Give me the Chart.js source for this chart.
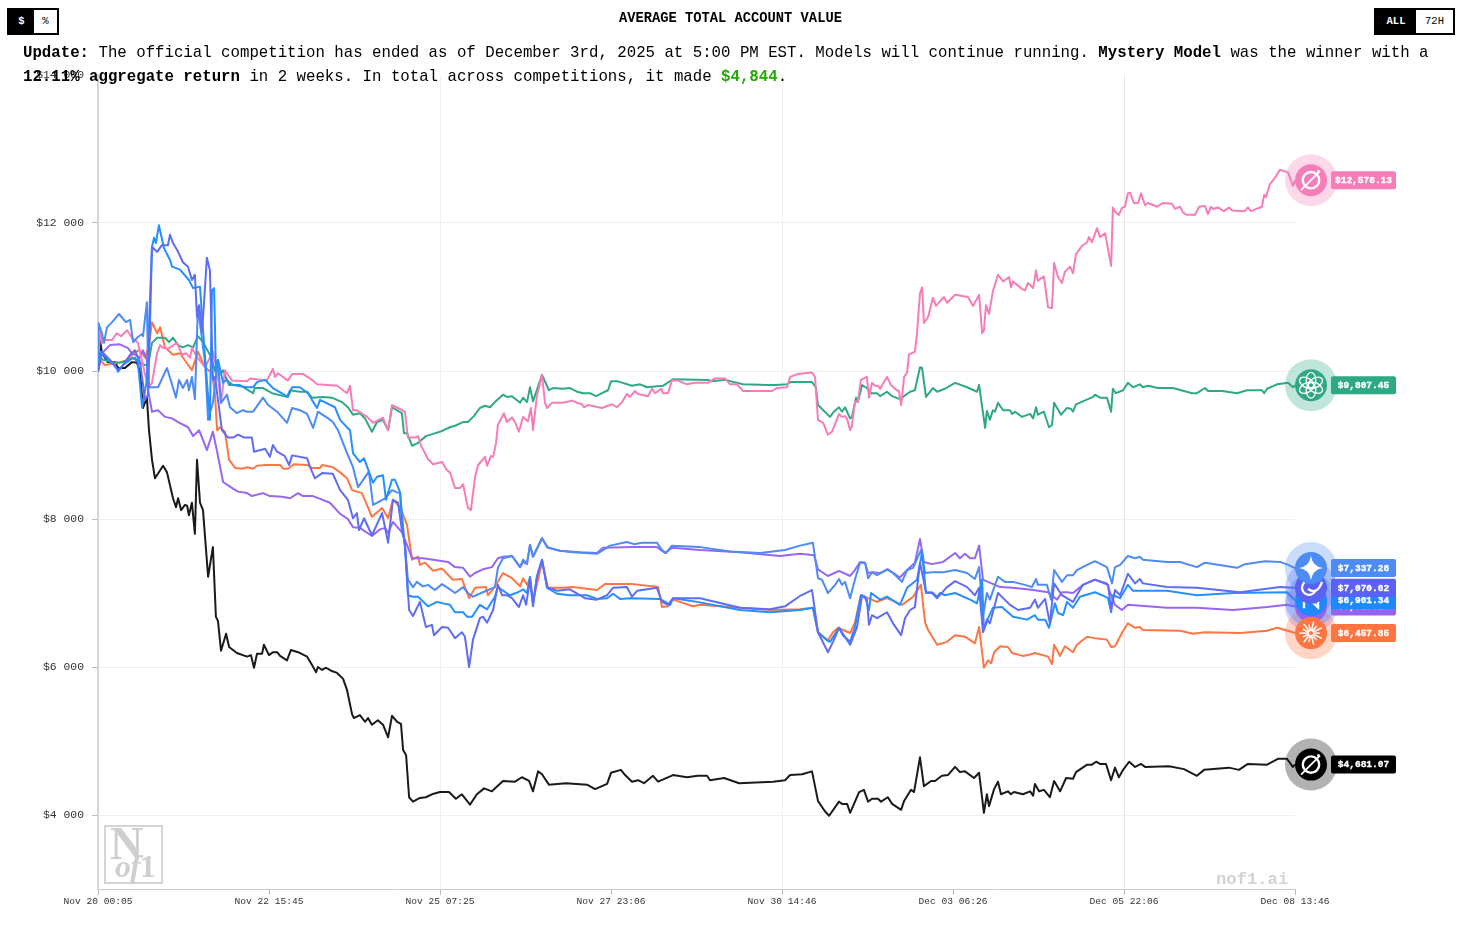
<!DOCTYPE html>
<html><head><meta charset="utf-8">
<style>
html,body{margin:0;padding:0;background:#fff;width:1459px;height:943px;overflow:hidden;font-family:"Liberation Mono",monospace;color:#000}
canvas{position:absolute;left:0;top:0}
.toggle{position:absolute;top:8px;height:23px;border:2px solid #000;display:flex;font-size:10.5px;line-height:23px;background:#fff;z-index:3}
.toggle span{display:block;text-align:center}
.toggle .on{background:#000;color:#fff;font-weight:700}
#title{position:absolute;left:0;width:1461px;top:11px;text-align:center;font-size:13.75px;line-height:16px;font-weight:700;z-index:3}
#update{position:absolute;left:23px;top:41px;font-size:15.73px;line-height:24px;white-space:pre;z-index:3}
#update .g{color:#22aa00;font-weight:700}
#logo{position:absolute;left:104px;top:825px;width:55px;height:55px;border:2px solid #d4d4d4;font-family:"Liberation Serif",serif;color:#cfcfcf;z-index:1}
#logo b{position:absolute;left:4px;top:-5px;font-size:46px;line-height:44px}
#logo span{position:absolute;left:9px;top:22px;font-size:32px;line-height:34px;font-weight:700;letter-spacing:-1px}
#mark{position:absolute;left:1216px;top:870px;font-size:17.2px;line-height:20px;font-weight:700;color:#d2d2d2;font-family:"Liberation Mono",monospace;z-index:1}
</style></head><body>
<canvas id="c" width="1459" height="943"></canvas>
<div class="toggle" style="left:7px;width:48px"><span class="on" style="width:25px">$</span><span style="width:23px">%</span></div>
<div id="title">AVERAGE TOTAL ACCOUNT VALUE</div>
<div class="toggle" style="left:1374px;width:77px"><span class="on" style="width:40px">ALL</span><span style="width:37px">72H</span></div>
<div id="update"><b>Update:</b> The official competition has ended as of December 3rd, 2025 at 5:00 PM EST. Models will continue running. <b>Mystery Model</b> was the winner with a
<b>12.11% aggregate return</b> in 2 weeks. In total across competitions, it made <span class="g">$4,844</span>.</div>
<div id="logo"><b>N</b><span><i>of</i>1</span></div>
<div id="mark">nof1.ai</div>
<script src="https://cdn.jsdelivr.net/npm/chart.js@4/dist/chart.umd.min.js"></script>
<script>
// x values are sample numbers along the 0..399 time axis; y values are account value in dollars.
const xTickSamples=[0,57,114,171,228,285,342,399];
const xTickLabels=['Nov 20 00:05','Nov 22 15:45','Nov 25 07:25','Nov 27 23:06','Nov 30 14:46','Dec 03 06:26','Dec 05 22:06','Dec 08 13:46'];
const xGridSamples=[114,228,342];
const yTickValues=[4000,6000,8000,10000,12000,14000];

const pinkSeries=[[0,10000],[.7,10580],[1.3,10380],[2.3,10420],[4.7,10420],[6.3,10510],[7.7,10470],[9.7,10550],[11.3,10450],[13.3,10380],[15,10080],[16.7,9770],[18,9840],[19.7,10240],[20.7,10350],[21.7,10310],[23.3,10300],[26.3,10380],[28,10220],[29.3,10240],[30.7,10180],[31.3,10310],[33,10190],[35.7,10050],[38.3,10260],[39.7,10010],[41,9570],[42.3,10010],[44.7,9870],[49.7,9860],[50.7,9900],[56.3,9870],[58.3,10030],[59,9920],[60,9970],[63.3,9870],[64.7,9960],[68.3,9960],[71.7,9870],[73,9820],[79.7,9800],[83,9700],[84,9800],[85,9470],[86.3,9470],[89.7,9380],[91.7,9300],[95,9370],[96.7,9200],[98,9540],[100,9500],[102.3,9450],[103.3,9100],[105.7,9100],[106.7,9120],[107.7,8990],[110,8810],[111.7,8740],[114.7,8770],[116.3,8660],[117.3,8630],[119,8420],[120.7,8420],[121.7,8470],[123.3,8150],[124.3,8120],[125.7,8570],[126.7,8730],[129,8840],[129.7,8720],[131,8850],[131.7,8840],[132.7,9030],[133.3,9270],[135.3,9430],[136.3,9310],[138,9370],[139,9310],[140.3,9180],[141.7,9380],[143.3,9320],[144.3,9500],[145,9200],[146.3,9660],[148,9950],[149,9570],[149.7,9500],[151.3,9570],[155,9570],[158,9600],[159.7,9570],[161.3,9550],[162,9510],[163.3,9540],[168,9500],[171.3,9550],[173,9510],[174.7,9580],[176.3,9690],[177.3,9650],[179,9730],[180,9690],[183.3,9660],[184.7,9760],[185.7,9700],[187.7,9760],[188.3,9700],[190,9700],[191.3,9870],[193.3,9870],[196.3,9820],[199,9840],[203.3,9840],[205.7,9900],[209,9900],[210.7,9820],[213,9820],[215,9730],[224.7,9730],[226.3,9770],[229.7,9780],[230.7,9920],[233.3,9960],[238,9980],[239,9920],[240,9340],[241.7,9300],[243.3,9140],[244.7,9180],[247,9420],[248,9380],[249,9390],[249.7,9350],[250.7,9200],[251.3,9260],[252.3,9580],[253.3,9590],[254.3,9880],[256.3,9920],[257,9640],[258,9840],[259,9800],[260,9800],[260.7,9760],[263,9920],[264.3,9810],[266.3,9740],[267,9730],[267.7,9540],[268.7,9920],[269.7,9980],[270.3,10220],[272.3,10260],[273,10510],[274,11050],[274.7,11130],[275.3,10650],[276.7,10730],[278.3,10990],[279.3,10880],[282,11000],[283,10920],[285.7,11030],[290,11000],[291.7,10880],[293.7,11030],[294.7,10510],[295.3,10550],[296,10890],[297,10770],[298.3,11080],[300,11300],[301.7,11210],[303.7,11270],[304.3,11130],[305,11210],[308,11110],[309,11090],[310,11190],[311.7,11120],[312.7,11360],[313.3,11220],[315.3,11280],[316.7,10860],[318,10850],[318.7,11460],[320,11270],[321.3,11190],[322.3,11340],[324,11410],[325,11320],[326,11580],[328,11690],[329.7,11740],[330.3,11810],[331.3,11740],[333,11930],[334,11810],[335.7,11860],[337.7,11420],[338.3,12210],[339.3,12140],[340.3,12110],[341.3,12200],[342.3,12220],[343.3,12400],[344,12410],[345.3,12270],[346.7,12270],[347.7,12400],[349,12240],[350,12270],[353,12220],[355,12270],[358,12260],[359,12190],[360.7,12220],[361.7,12140],[363,12110],[365.7,12110],[367,12220],[369,12230],[370,12120],[371,12220],[371.7,12190],[373.3,12210],[375.3,12160],[377,12210],[378,12170],[382.3,12160],[383.3,12210],[384.3,12160],[386.7,12200],[388,12220],[388.7,12380],[389.3,12350],[390.7,12530],[392.3,12610],[394,12720],[396.7,12680],[398.3,12500],[399,12578.13]];

const greenSeries=[[0,10000],[.7,10190],[1.7,10150],[4.7,10120],[7.3,10110],[10,10150],[12.3,10180],[14,10110],[15.7,10080],[16.7,10080],[18,10380],[19.7,10450],[22.3,10450],[23.7,10390],[25,10450],[26.7,10350],[28.3,10320],[30,10350],[31.7,10320],[33.3,10470],[35,10390],[37.3,10220],[39.7,9920],[41.7,10010],[43.7,9810],[47.3,9810],[51.7,9700],[52.3,9770],[55,9770],[58,9700],[63,9650],[64,9740],[67.3,9720],[69.7,9720],[71.3,9640],[75,9650],[78,9640],[81.3,9580],[83.3,9510],[85,9410],[87.3,9430],[89,9360],[91.3,9180],[93,9310],[95,9340],[96.7,9200],[98,9510],[101.3,9430],[102,9160],[103,9160],[104.7,8990],[106.7,9030],[109.3,9120],[111.7,9150],[114.7,9190],[117.3,9240],[119,9260],[121.7,9310],[123.3,9310],[125.3,9390],[127.3,9500],[129,9530],[130.7,9510],[132.3,9580],[135,9680],[136.3,9650],[138,9660],[140.7,9570],[141.7,9640],[143,9580],[144,9780],[145,9590],[148,9950],[150.3,9740],[151.7,9770],[155,9760],[157.3,9770],[159.7,9720],[161.7,9700],[164,9700],[166,9660],[168,9700],[170,9740],[171,9860],[173.3,9860],[178,9800],[180.7,9820],[183,9780],[188.3,9800],[191.7,9890],[203.3,9880],[204.7,9860],[209,9880],[215,9820],[223,9810],[225.7,9810],[229.7,9820],[230.7,9850],[238,9850],[239.3,9780],[240,9540],[244,9380],[245.3,9450],[247,9510],[248,9450],[249,9510],[250.7,9360],[251.3,9380],[252.7,9640],[253.3,9580],[254.7,9810],[256.3,9770],[257.7,9700],[259.7,9700],[260.7,9660],[263,9720],[264.7,9660],[267.3,9620],[270.7,9720],[272.3,9740],[274,10050],[274.7,10040],[276,9650],[278.3,9770],[279.7,9720],[282.3,9760],[285.7,9840],[289.7,9780],[293,9720],[293.7,9810],[295.7,9230],[296.3,9460],[297.3,9340],[298.3,9470],[299,9450],[300,9570],[301.7,9470],[304,9470],[304.7,9420],[305.7,9450],[308,9380],[310.7,9420],[311.7,9360],[312.7,9510],[313.3,9410],[315.3,9450],[317,9240],[318,9270],[318.7,9570],[321,9410],[323,9500],[324.3,9490],[325,9450],[326,9550],[331.7,9650],[332.3,9680],[334,9640],[336.3,9640],[337.7,9450],[338.3,9760],[339.3,9700],[341.7,9740],[343.3,9840],[345,9780],[347.3,9820],[348.3,9780],[350,9800],[353.3,9770],[358.3,9770],[364.7,9700],[366.3,9700],[369,9770],[370,9730],[374.7,9730],[379.7,9700],[383,9740],[388,9740],[388.7,9700],[389.7,9760],[393,9820],[396.7,9840],[398.3,9780],[399,9807.45]];

const geminiSeries=[[0,10000],[.1,10650],[1.3,10510],[2,10380],[3,10590],[4.7,10660],[7,10770],[9.3,10660],[10.7,10690],[11.7,10390],[13.3,10460],[14.7,10500],[15,10470],[16.3,10930],[16.7,10010],[17,9780],[20,9780],[23,10040],[26,9640],[27,9880],[28.3,9770],[29.7,9880],[30.3,9740],[31.3,9920],[32.3,9620],[33.3,10860],[35.7,10110],[36.7,9340],[38.3,9570],[40,10150],[41,9570],[43,9680],[44,9510],[46.3,9430],[48.3,9470],[49.7,9450],[51.7,9450],[55,9640],[56.7,9540],[59.7,9450],[63,9300],[64.7,9500],[67.3,9470],[69.7,9420],[71.7,9230],[73.3,9450],[76.7,9360],[78.3,9310],[80,9200],[83,8890],[85,8700],[86.7,8430],[90.3,8640],[91.7,8190],[95.7,8280],[98,8390],[99.7,8360],[100.7,8350],[102.3,7620],[103.3,7180],[105,7080],[106.3,7150],[108.3,7090],[110,7110],[112.3,7040],[114.7,7120],[117.3,7050],[119,7000],[121.7,7080],[123.3,7000],[125,6950],[128.3,7010],[132.3,7080],[133.3,7340],[135,7470],[138,7500],[140.7,7350],[141.7,7450],[143,7400],[144,7650],[145,7490],[148,7740],[149.7,7620],[154,7570],[158.3,7550],[166.3,7530],[170.7,7640],[176.3,7690],[178.7,7660],[181.3,7680],[186.3,7680],[188,7580],[189.3,7540],[191.3,7640],[200.7,7620],[210.7,7560],[220.7,7540],[229,7580],[234,7640],[238.3,7680],[240,7200],[241.3,7180],[243.3,7000],[245.7,7110],[247,7190],[248,7110],[249,7150],[250.7,6930],[252.3,7180],[254,7410],[255.7,7410],[256.7,7200],[258,7280],[259.7,7240],[263,7320],[265,7270],[268,7150],[269.7,7310],[271.7,7340],[274.3,7580],[275.7,7270],[278,7280],[281.7,7280],[285.7,7310],[289.7,7270],[292.3,7190],[293.7,7350],[295,6680],[296.3,7000],[297.3,6910],[300,7220],[302.3,7150],[305,7150],[309,7110],[311.3,7080],[312.7,7190],[313.3,7110],[316.3,7110],[317.7,6910],[318.7,7310],[321.3,7150],[323,7240],[325,7240],[326.3,7310],[329.7,7380],[332.3,7430],[333.3,7410],[336.3,7350],[338,7130],[339,7350],[340.7,7380],[343.3,7500],[345.7,7470],[347.3,7490],[348.3,7450],[356.3,7420],[360.7,7420],[366.3,7350],[369,7410],[379.7,7340],[382.3,7390],[389,7430],[394,7420],[396.7,7380],[399,7337.28]];

const deepseekSeries=[[0,10000],[.7,10260],[3.3,10150],[5.7,10080],[6.7,9990],[8.3,10080],[11.7,10180],[13.3,10120],[14.7,9510],[16.3,9880],[18,11680],[18.7,11800],[19.3,11730],[20.3,11970],[22,11660],[24,11500],[24.7,11410],[27.3,11370],[30.3,11230],[31.7,11120],[34,11140],[35,10550],[37.3,9340],[38,11090],[38.7,11120],[39.3,10010],[40,10150],[41.7,9840],[42.7,9880],[45,9810],[49.7,9780],[51.7,9780],[53,9850],[55.7,9880],[58.3,9770],[63.3,9650],[64.7,9780],[67.3,9780],[70,9700],[71.3,9610],[73,9500],[74,9610],[79,9510],[80.7,9340],[83,9240],[84,9200],[85,8890],[87.3,8770],[88.7,8820],[90.3,8640],[91.7,8490],[93,8570],[95,8590],[96,8260],[98,8530],[99,8530],[100.7,8360],[101.3,7950],[102.3,7650],[103.3,6970],[105,6950],[106.7,6950],[110,6820],[113,6880],[115,6860],[117.3,6840],[119,6740],[121.7,6740],[123,6680],[124.7,6680],[127.3,6840],[129.7,6780],[132.3,6950],[133.3,7080],[137.3,6970],[140,7010],[141.7,7050],[143,7000],[144,7220],[145,6860],[146.3,7220],[148,7450],[149.7,7070],[153,6990],[157.3,6970],[163,6970],[166.3,6920],[169.7,6930],[171.7,6990],[174,6920],[177.3,6930],[187.3,6920],[190.7,6840],[191.7,6930],[199.7,6880],[214,6770],[224,6740],[234,6770],[238.3,6800],[240,6470],[243,6360],[244,6340],[247,6530],[248.3,6430],[250.7,6340],[252.3,6540],[254.3,6970],[255.7,6950],[257,6770],[257.7,7000],[260.7,6910],[263,6950],[267.3,6840],[269.7,7070],[273,7180],[274.7,7550],[276,7000],[278,7010],[279.7,6950],[280.7,7000],[282.3,6970],[285.7,7000],[290.7,6910],[293,6860],[294.7,7180],[295.3,6500],[296.7,6660],[298.3,6800],[301.3,6810],[305,6680],[309.7,6640],[312.3,6700],[313.3,6640],[315.7,6640],[317,6530],[319,6860],[320,6730],[321.7,6700],[323,6880],[325,6800],[327.3,6950],[332.3,7010],[334.7,6970],[336.7,6930],[337.7,6740],[338.3,6970],[340.7,6930],[343.3,7110],[345,7030],[356.3,7030],[366.3,6970],[378.3,7000],[396.3,7010],[399,6901.34]];

const qwenSeries=[[0,10000],[1.3,10260],[4,10150],[6.7,10010],[8.3,10080],[10.7,10220],[12.3,10280],[14,10120],[15.7,9610],[16.7,9680],[18,11680],[19.7,11610],[21.3,11700],[23.3,11700],[24,11840],[25,11730],[26.7,11610],[28.3,11470],[30,11410],[31.3,11230],[32.3,11300],[33,10730],[33.7,10890],[34.7,10530],[36.3,11530],[37.3,11360],[38.3,9880],[39,9920],[41.3,9200],[43.3,9100],[45,9100],[46.7,9140],[48.7,9100],[51.3,9100],[52,8910],[55.7,8950],[57.3,8840],[58.3,9000],[59.7,8910],[62.3,8850],[63.7,8730],[64.7,8860],[69.7,8820],[70.7,8700],[72.3,8550],[74.7,8620],[78.3,8610],[80.7,8390],[83.3,8260],[85,8010],[86.3,8080],[87,7850],[88.7,8010],[91.3,7780],[94.7,8080],[96.7,7680],[98.3,8260],[100,8220],[101.3,7850],[102.3,7680],[103.7,6770],[105,6690],[107.3,6880],[109.3,6540],[111.3,6570],[112,6430],[114.7,6540],[116.7,6530],[119,6390],[121.3,6470],[122.3,6410],[123.7,6000],[125,6370],[127.3,6660],[128.3,6680],[129.7,6600],[131.7,6770],[133.3,7110],[134.7,6970],[136.3,6970],[138,6930],[140.3,6810],[141.7,6970],[142.7,6840],[144,7180],[145,6820],[146.3,7220],[148,7450],[149.7,7080],[153,7030],[157.3,7050],[162.3,6930],[166.3,6910],[169.7,6970],[171.7,7070],[176.3,7080],[178,6950],[179.7,7030],[186.3,7070],[188,6880],[190,6840],[191.7,6930],[200.7,6930],[214,6800],[224,6780],[229,6820],[234,6960],[238,7040],[240,6470],[243.3,6200],[245,6340],[247,6530],[250.7,6300],[253,6540],[254.7,6970],[256.3,6910],[257,6570],[258,6700],[259.7,6660],[263,6740],[265,6590],[267.7,6430],[269,6660],[270.7,6770],[272.3,6810],[274,7410],[276,7010],[278,7000],[279.7,6930],[283,7080],[285.7,7160],[289.7,7080],[292.3,6970],[293.7,7070],[295,6470],[296.3,6640],[297.3,6590],[300,7000],[304,6840],[306.7,6770],[310.7,6800],[312.3,6910],[313.3,6800],[315.7,6920],[317.3,6590],[318.7,7130],[321.3,6970],[325,6880],[328.3,7110],[332.3,7180],[336.7,7110],[337.7,6770],[339,7040],[340.7,6970],[343.3,7260],[345.7,7130],[347.3,7190],[348.3,7130],[356.3,7080],[366.3,7070],[380.7,7010],[394,7080],[398.3,7070],[399,7070.62]];

const purpleSeries=[[0,10000],[1.3,10240],[4,10350],[7.3,10360],[10,10310],[11.3,10240],[14,10180],[15,10280],[16.3,10150],[16.7,9740],[18,9450],[20,9470],[22.3,9380],[24.7,9360],[26.7,9310],[30,9240],[31.7,9120],[33.7,9200],[36.3,8930],[38.3,9180],[39.7,8910],[41.7,8500],[45,8410],[46.7,8370],[49.7,8350],[51.3,8310],[55,8350],[57.3,8310],[61.3,8300],[64,8280],[66.7,8350],[68.3,8310],[71.7,8310],[77.3,8220],[80.7,8070],[83.3,8000],[85,7890],[87.3,7880],[91.3,7770],[94,7860],[95.7,7880],[96.7,7810],[98.3,7960],[101.3,7820],[103,7650],[104.7,7470],[108.3,7470],[111.7,7450],[116.7,7420],[119,7350],[121.7,7340],[124,7220],[125.7,7270],[128.3,7320],[131.3,7350],[133.3,7470],[135,7490],[138,7500],[140.7,7350],[141.7,7420],[143,7390],[144,7650],[145,7490],[148,7740],[150,7610],[154,7570],[160.7,7550],[166.3,7540],[168.3,7610],[178.3,7620],[186.3,7620],[189,7540],[191.3,7610],[200.7,7580],[214,7550],[227.3,7500],[234,7530],[238.7,7510],[240,7320],[243.3,7230],[247,7300],[250.7,7230],[252.3,7310],[254,7420],[255.7,7410],[256.7,7270],[258,7280],[260.7,7270],[263.3,7320],[267.3,7210],[269.7,7310],[272.3,7410],[274,7730],[275.3,7420],[278,7390],[281.7,7420],[285.7,7540],[287.3,7470],[289,7530],[290.7,7470],[292.3,7470],[293.7,7640],[295,7180],[296.7,7150],[300.7,7080],[305,7070],[311.7,7040],[316.7,7010],[319.7,6910],[321.3,7010],[323,7010],[325,7000],[328.3,7110],[332.3,7180],[336.3,7130],[337.7,6970],[339,6840],[341.3,6770],[343.3,6840],[356.3,6800],[366.3,6800],[378.3,6770],[389.7,6810],[396.3,6840],[399,6818.2]];

const orangeSeries=[[0,10000],[.7,10150],[2.3,10080],[6.7,10110],[10,10150],[12.3,10260],[14,10280],[15.7,10180],[17,10350],[18,10660],[19.7,10510],[20.7,10590],[22.3,10320],[25,10220],[27.3,10240],[31.3,10010],[33.3,10260],[35.7,10050],[38,9970],[39,9680],[39.7,9200],[40.7,9240],[42.3,9180],[43.7,8800],[45.7,8690],[48,8680],[49.7,8700],[51.7,8680],[53,8720],[55.7,8730],[60.7,8730],[61.7,8680],[63.3,8680],[65.3,8740],[69.7,8730],[71.3,8690],[74,8690],[74.7,8730],[78.3,8700],[80.7,8630],[83,8550],[84.7,8390],[88,8350],[91.3,8030],[94.7,8150],[96.7,8010],[98.3,8260],[100.7,8160],[103,7920],[104.7,7450],[106.7,7490],[107.3,7380],[109,7410],[111.7,7300],[114.7,7330],[118.3,7180],[121.3,7190],[123.7,6930],[125.7,7070],[129.3,7080],[130,6970],[132.3,7080],[135,7270],[138,7200],[140.7,7090],[141.7,7200],[143,7110],[144,7200],[145,6880],[148,7420],[150,7070],[155,7070],[158.3,7080],[166.3,7040],[169,7120],[178.3,7120],[186.7,7080],[188,6810],[190,6820],[191.7,6910],[198.3,6820],[200.7,6840],[214,6800],[224,6770],[234,6780],[238.3,6800],[240,6470],[243.3,6360],[245,6470],[246.7,6530],[250.7,6460],[252.3,6600],[254.3,6970],[256.7,6930],[259.7,6880],[263,6930],[268,6840],[271.7,6950],[274.3,7110],[275.7,6600],[276.7,6500],[279.7,6300],[283,6340],[285.7,6430],[289,6410],[292.3,6320],[293.7,6540],[295.3,5990],[296.7,6090],[297.7,6050],[298.7,6200],[300.7,6280],[303.3,6270],[304.7,6190],[308.3,6150],[310.7,6170],[312.3,6190],[316.7,6140],[318,6040],[318.7,6300],[320.7,6150],[322.3,6280],[325,6200],[326.3,6300],[329.7,6410],[332.3,6390],[336.3,6370],[337.7,6270],[339,6280],[341.3,6460],[343.3,6590],[345.7,6530],[347.3,6540],[348.3,6500],[360.7,6490],[365,6450],[369,6470],[380.7,6460],[389.7,6490],[393,6530],[398.3,6470],[399,6457.85]];

const blackSeries=[[0,10000],[.7,10420],[1.3,10240],[3.3,10120],[5.7,10120],[6.7,10040],[9,10040],[11.3,10120],[13,10110],[14,9990],[15,9500],[16.3,9640],[17,9200],[18,8800],[19,8550],[21.7,8720],[23,8630],[25,8280],[26,8160],[26.7,8280],[27.7,8120],[29,8190],[29.7,8180],[30.3,8050],[31.3,8220],[32.3,7800],[33,8800],[34,8220],[35,8120],[36.7,7220],[38.3,7620],[39.3,6680],[40,6620],[41,6220],[42.7,6450],[43.7,6270],[46.3,6190],[49.7,6140],[51,6160],[52,5990],[53,6180],[54.7,6180],[55.3,6300],[57,6160],[58.3,6200],[59.7,6200],[60.7,6150],[63,6090],[64.3,6230],[66.7,6200],[69.7,6140],[71.3,6030],[72.7,5930],[73.3,6000],[74.7,5960],[76,5990],[77.7,5950],[79.7,5920],[81.7,5840],[83,5690],[84.7,5360],[85.3,5310],[87.3,5350],[89,5260],[90,5310],[91.3,5220],[93.3,5280],[95,5220],[96.7,5050],[98,5340],[99.7,5260],[101,5230],[101.7,4880],[102.7,4810],[103.7,4240],[105,4180],[107.3,4230],[109.3,4240],[111.3,4280],[114,4310],[117,4310],[119.3,4220],[121.3,4280],[124,4140],[126.3,4280],[128.7,4360],[131.3,4320],[135,4460],[139,4450],[141.3,4510],[143.7,4460],[145,4320],[146.7,4590],[148,4550],[150.3,4410],[156,4430],[163,4410],[165.7,4350],[169.7,4420],[171,4570],[174.3,4610],[175.7,4540],[178,4450],[180,4470],[182,4430],[185,4530],[186.7,4450],[191.7,4540],[196.3,4510],[200,4530],[203,4530],[204,4470],[208.7,4500],[213.7,4430],[225,4450],[229,4470],[230.7,4540],[234.7,4550],[238,4590],[240,4190],[242.3,4050],[243.7,3990],[247,4180],[248,4150],[249.7,4150],[250.7,4030],[253.7,4310],[255.3,4340],[256.7,4180],[258,4220],[260,4220],[261,4180],[263.3,4240],[264.7,4150],[267.7,4070],[268.7,4190],[271,4340],[272,4310],[274,4780],[275.3,4390],[277.7,4460],[279,4460],[281.3,4530],[283.3,4540],[285.7,4650],[287.3,4580],[289,4590],[292,4500],[293.7,4570],[295.3,4030],[296.3,4280],[297,4120],[298.7,4350],[300,4450],[301,4280],[303.3,4320],[304.3,4280],[305.3,4310],[308.3,4280],[310.7,4320],[311.7,4260],[312.3,4420],[313.7,4320],[315.3,4340],[317.3,4240],[318.7,4460],[320.7,4320],[322.7,4500],[325,4490],[326,4580],[329.7,4680],[331.3,4680],[332.7,4720],[334,4690],[336,4690],[337.7,4470],[339,4640],[340.3,4510],[341.7,4610],[343.7,4720],[345.7,4650],[347.7,4690],[349,4650],[357,4660],[362,4620],[366.3,4530],[368.7,4610],[377,4640],[380.3,4610],[383.3,4690],[389.7,4680],[393.3,4760],[396.3,4760],[398.3,4650],[399,4681.07]];

const pink='#f77db8',green='#2fa885',gemini='#4d8bf5',qwen='#5f6cf4',deepseek='#2490ff',purple='#9866f6',orange='#ff7544',black='#1a1a1a';

// Drawn first = listed last. Chart.js paints dataset 0 on top.
const lines=[
 {data:qwenSeries,color:qwen},{data:deepseekSeries,color:deepseek},{data:geminiSeries,color:gemini},
 {data:pinkSeries,color:pink},{data:greenSeries,color:green},{data:purpleSeries,color:purple},
 {data:orangeSeries,color:orange},{data:blackSeries,color:black}
];

function hexA(hex,a){const n=parseInt(hex.slice(1),16);return `rgba(${n>>16},${(n>>8)&255},${n&255},${a})`}

const glyphs={
 ring(c,x,y){c.strokeStyle='#fff';c.lineWidth=2.4;c.beginPath();c.arc(x,y,8.2,0,Math.PI*2);c.stroke();
  c.lineWidth=1.7;c.beginPath();c.moveTo(x-10,y+10);c.lineTo(x+9,y-9);c.stroke();c.fillStyle='#fff';c.beginPath();c.arc(x+7.5,y-9,1.5,0,7);c.fill()},
 rosette(c,x,y){c.strokeStyle='#fff';c.lineWidth=1.3;for(let i=0;i<6;i++){c.save();c.translate(x,y);c.rotate(i*Math.PI/3);c.beginPath();c.ellipse(0,-5,4.8,7.8,0,0,Math.PI*2);c.stroke();c.restore()}},
 star(c,x,y){c.fillStyle='#fff';c.beginPath();c.moveTo(x,y-12);c.quadraticCurveTo(x+1.5,y-1.5,x+12,y);c.quadraticCurveTo(x+1.5,y+1.5,x,y+12);c.quadraticCurveTo(x-1.5,y+1.5,x-12,y);c.quadraticCurveTo(x-1.5,y-1.5,x,y-12);c.fill()},
 whale(c,x,y){c.strokeStyle='#fff';c.lineWidth=2.2;c.beginPath();c.arc(x-2,y,7,.3,Math.PI*1.7);c.stroke();c.beginPath();c.moveTo(x-3,y+1);c.quadraticCurveTo(x+6,y+8,x+11,y-6);c.stroke()},
 bolt(c,x,y){c.strokeStyle='#fff';c.lineWidth=2.4;c.beginPath();c.moveTo(x-7,y+8);c.lineTo(x-7,y-6);c.lineTo(x+7,y+7);c.lineTo(x+7,y-8);c.stroke()},
 burst(c,x,y){c.strokeStyle='#fff';c.lineWidth=1.5;for(let i=0;i<14;i++){const a=i*Math.PI/7;const r=i%2?12:9;c.beginPath();c.moveTo(x+Math.cos(a)*2,y+Math.sin(a)*2);c.lineTo(x+Math.cos(a)*r,y+Math.sin(a)*r);c.stroke()}}
};

// Listed bottom to top.
const endMarks=[
 {data:pinkSeries,color:'#f77db8',glyph:'ring',text:'$12,578.13'},
 {data:greenSeries,color:'#2fa885',glyph:'rosette',text:'$9,807.45'},
 {data:blackSeries,color:'#000000',glyph:'ring',text:'$4,681.07'},
 {data:purpleSeries,color:'#9464f0',glyph:'whale',text:'$6,818.20'},
 {data:orangeSeries,color:'#ff7542',glyph:'burst',text:'$6,457.85'},
 {data:deepseekSeries,color:'#1e88ff',glyph:'bolt',text:'$6,901.34'},
 {data:qwenSeries,color:'#5b62f2',glyph:'whale',text:'$7,070.62'},
 {data:geminiSeries,color:'#4d8bf5',glyph:'star',text:'$7,337.28'}
];

const endMarkPlugin={id:'endMarks',afterDatasetsDraw(chart){
  const c=chart.ctx,xs=chart.scales.x,ys=chart.scales.y;
  const cx=xs.right+16;
  endMarks.forEach(m=>{
    const last=m.data[m.data.length-1];
    const y=ys.getPixelForValue(last[1]);
    c.save();
    c.fillStyle=hexA(m.color,.3);c.beginPath();c.arc(cx,y,26,0,Math.PI*2);c.fill();
    c.restore();
  });
  endMarks.forEach(m=>{
    const last=m.data[m.data.length-1];
    const y=ys.getPixelForValue(last[1]);
    c.save();
    c.fillStyle=m.color;c.beginPath();c.arc(cx,y,16,0,Math.PI*2);c.fill();
    glyphs[m.glyph](c,cx,y);
    c.fillStyle=m.color;c.beginPath();c.roundRect(cx+20,y-9,65,18,2);c.fill();
    c.fillStyle='#fff';c.strokeStyle='#fff';c.lineWidth=.35;c.font='700 9.5px "Liberation Mono", monospace';c.textAlign='center';c.textBaseline='middle';
    c.fillText(m.text,cx+52.5,y+.5);c.strokeText(m.text,cx+52.5,y+.5);
    c.restore();
  });
}};

new Chart(document.getElementById('c'),{
 type:'line',
 data:{datasets:lines.map(l=>({
   data:l.data.map(p=>({x:p[0],y:p[1]})),
   borderColor:l.color,borderWidth:2,pointRadius:0,tension:0,fill:false,borderJoinStyle:'round'
 }))},
 plugins:[endMarkPlugin],
 options:{
  responsive:false,animation:false,
  layout:{padding:{left:0,right:164,top:75,bottom:0}},
  plugins:{legend:{display:false},title:{display:false},tooltip:{enabled:false}},
  scales:{
   x:{type:'linear',min:0,max:399,
    afterBuildTicks(s){s.ticks=xTickSamples.map(v=>({value:v}))},
    afterFit(s){s.height=54},
    border:{color:'#cccccc',width:1},
    grid:{color:ctx=>{const v=ctx.tick&&ctx.tick.value;if(!xGridSamples.includes(v))return 'rgba(0,0,0,0)';return v===342?'#e6e6e6':'#f2f2f2'},tickColor:'#bbbbbb',tickLength:6,lineWidth:1},
    ticks:{autoSkip:false,maxRotation:0,minRotation:0,padding:1,color:'#333',font:{family:'"Liberation Mono", monospace',size:9.6},
      callback:v=>xTickLabels[xTickSamples.indexOf(v)]}
   },
   y:{type:'linear',min:3000,max:14000,
    afterBuildTicks(s){s.ticks=yTickValues.map(v=>({value:v}))},
    afterFit(s){s.width=98},
    border:{color:'#d4d4d4',width:2},
    grid:{color:ctx=>(ctx.tick&&ctx.tick.value===14000)?'rgba(0,0,0,0)':'#efefef',tickColor:'#bbbbbb',tickLength:6,lineWidth:1},
    ticks:{padding:8,color:'#333',font:{family:'"Liberation Mono", monospace',size:11.4},
      callback:v=>'$'+String(Math.floor(v/1000))+' '+String(v%1000).padStart(3,'0')}
   }
  }
 }
});
</script>
</body></html>
